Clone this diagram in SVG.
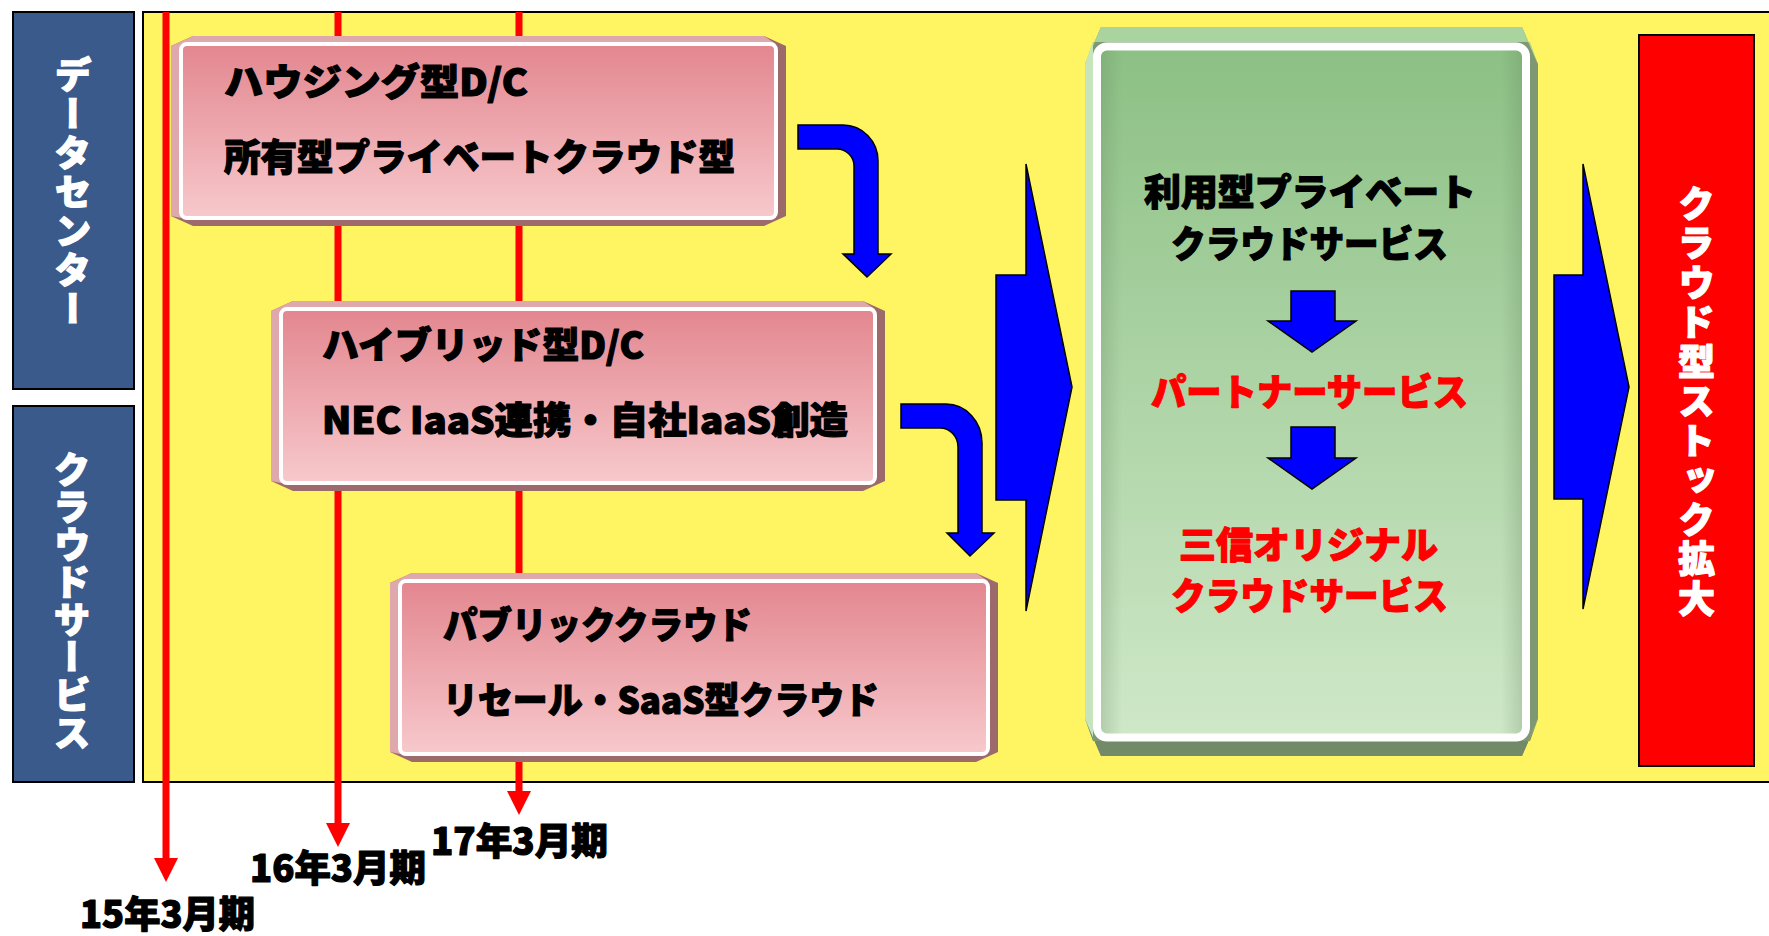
<svg xmlns="http://www.w3.org/2000/svg" width="1769" height="936" viewBox="0 0 1769 936">
<defs>
<style>
.t{font-family:"Noto Sans CJK JP","Noto Sans",sans-serif;font-weight:900;font-size:37px;stroke-width:1.2;stroke-linejoin:round;}
.blk{fill:#000000;stroke:#000000;}
.red{fill:#ff0000;stroke:#ff0000;}
.wht{fill:#ffffff;stroke:#ffffff;}
.vt{writing-mode:vertical-rl;text-orientation:upright;}
.pinkDark{fill:#9c6a6a;}
.pinkLight{fill:#dfa8ac;}
.pinkFace{fill:url(#gPink);stroke:#ffffff;stroke-width:4;}
.blueArrow{fill:#0000ff;stroke:#000000;stroke-width:1.5;stroke-linejoin:miter;}
.tl{stroke:#ff0000;stroke-width:7;fill:none;}
.side{fill:#3a5a8c;stroke:#000000;stroke-width:2;}
</style>
<linearGradient id="gPink" x1="0" y1="0" x2="0" y2="1">
<stop offset="0" stop-color="#e3868f"/>
<stop offset="1" stop-color="#f7c9cc"/>
</linearGradient>
<linearGradient id="gGreen" x1="0" y1="0" x2="0" y2="1">
<stop offset="0" stop-color="#8cc084"/>
<stop offset="1" stop-color="#cfe8c8"/>
</linearGradient>
<linearGradient id="gEdge" x1="0" y1="0" x2="1" y2="0">
<stop offset="0" stop-color="#5f7f58" stop-opacity="0.25"/>
<stop offset="0.05" stop-color="#5f7f58" stop-opacity="0"/>
<stop offset="0.95" stop-color="#5f7f58" stop-opacity="0"/>
<stop offset="1" stop-color="#5f7f58" stop-opacity="0.25"/>
</linearGradient>
<marker id="redHead" markerUnits="userSpaceOnUse" markerWidth="24" markerHeight="24" viewBox="0 0 24 24" refX="0" refY="12" orient="auto">
<path d="M0,0 L24,12 L0,24 Z" fill="#ff0000"/>
</marker>
</defs>

<rect width="1769" height="936" fill="#ffffff"/>

<g id="bg">
<rect x="143" y="12" width="1640" height="770" fill="#fff462" stroke="#000000" stroke-width="2"/>
</g>

<g id="side-datacenter">
<rect class="side" x="13" y="12" width="121" height="377"/>
<text class="t wht vt" x="73" y="56" font-size="38" textLength="271" lengthAdjust="spacing">データセンター</text>
</g>
<g id="side-cloud">
<rect class="side" x="13" y="406" width="121" height="376"/>
<text class="t wht vt" x="72" y="451" font-size="38" textLength="300" lengthAdjust="spacing">クラウドサービス</text>
</g>

<g id="connectors">
<line class="tl" x1="166" y1="12" x2="166" y2="858" marker-end="url(#redHead)"/>
<line class="tl" x1="338" y1="12" x2="338" y2="823" marker-end="url(#redHead)"/>
<line class="tl" x1="519" y1="12" x2="519" y2="791" marker-end="url(#redHead)"/>
<path class="blueArrow" d="M798,125 H843 A35,36 0 0 1 878,161 V254 H891 L867,277 L843,254 H854 V166 A17,17 0 0 0 837,149 H798 Z"/>
<path class="blueArrow" d="M901,404 H946 A36,39 0 0 1 982,443 V533 H994 L970,556 L947,533 H958 V447 A18,19 0 0 0 940,428 H901 Z"/>
<polygon class="blueArrow" points="996,275 1026,275 1026,164 1072,387 1026,611 1026,500 996,500"/>
<polygon class="blueArrow" points="1554,275 1583,275 1583,164 1629,387 1583,609 1583,499 1554,499"/>
</g>

<g id="box-housing">
<polygon class="pinkDark" points="193,36 764,36 786,46 786,216 764,226 193,226 171,216 171,46"/>
<polygon class="pinkLight" points="171,216 171,46 193,36 764,36 776,44 181,44 181,218"/>
<rect class="pinkFace" x="181" y="44" width="595" height="174" rx="6"/>
<text class="t blk" x="224" y="96" textLength="304" lengthAdjust="spacingAndGlyphs">ハウジング型D/C</text>
<text class="t blk" x="224" y="171" textLength="511" lengthAdjust="spacingAndGlyphs">所有型プライベートクラウド型</text>
</g>

<g id="box-hybrid">
<polygon class="pinkDark" points="293,301 863,301 885,311 885,481 863,491 293,491 271,481 271,311"/>
<polygon class="pinkLight" points="271,481 271,311 293,301 863,301 875,309 281,309 281,483"/>
<rect class="pinkFace" x="281" y="309" width="594" height="174" rx="6"/>
<text class="t blk" x="322" y="359" textLength="322" lengthAdjust="spacingAndGlyphs">ハイブリッド型D/C</text>
<text class="t blk" x="322" y="434" textLength="526" lengthAdjust="spacingAndGlyphs">NEC IaaS連携・自社IaaS創造</text>
</g>

<g id="box-public">
<polygon class="pinkDark" points="412,573 976,573 998,583 998,752 976,762 412,762 390,752 390,583"/>
<polygon class="pinkLight" points="390,752 390,583 412,573 976,573 988,581 400,581 400,754"/>
<rect class="pinkFace" x="400" y="581" width="588" height="173" rx="6"/>
<text class="t blk" x="443" y="639" textLength="309" lengthAdjust="spacingAndGlyphs">パブリッククラウド</text>
<text class="t blk" x="443" y="714" textLength="436" lengthAdjust="spacingAndGlyphs">リセール・SaaS型クラウド</text>
</g>

<g id="box-services">
<polygon fill="#7e9873" points="1101,27 1522,27 1538,64 1538,719 1522,756 1101,756 1085,719 1085,64"/>
<polygon fill="#a9d4a0" points="1085,64 1101,27 1522,27 1538,64 1530,42 1093,42"/>
<polygon fill="#c6e5bd" points="1085,64 1093,42 1093,741 1085,719"/>
<polygon fill="#738a69" points="1085,719 1093,741 1530,741 1538,719 1522,756 1101,756"/>
<rect x="1097" y="46.5" width="429" height="691" rx="10" fill="url(#gGreen)" stroke="#ffffff" stroke-width="8"/>
<rect x="1101" y="50.5" width="421" height="683" rx="6" fill="url(#gEdge)"/>
<text class="t blk" x="1144" y="206" font-size="38" textLength="332" lengthAdjust="spacingAndGlyphs">利用型プライベート</text>
<text class="t blk" x="1171" y="258" font-size="38" textLength="277" lengthAdjust="spacingAndGlyphs">クラウドサービス</text>
<polygon class="blueArrow" points="1291,291 1335,291 1335,321 1356,321 1312,352 1268,321 1291,321"/>
<text class="t red" x="1151" y="406" font-size="38" textLength="317" lengthAdjust="spacingAndGlyphs">パートナーサービス</text>
<polygon class="blueArrow" points="1291,427 1335,427 1335,458 1356,458 1312,489 1268,458 1291,458"/>
<text class="t red" x="1179" y="559" font-size="38" textLength="259" lengthAdjust="spacingAndGlyphs">三信オリジナル</text>
<text class="t red" x="1171" y="610" font-size="38" textLength="277" lengthAdjust="spacingAndGlyphs">クラウドサービス</text>
</g>

<g id="box-stock">
<rect x="1639" y="35" width="115" height="731" fill="#ff0000" stroke="#000000" stroke-width="2"/>
<text class="t wht vt" x="1696.5" y="185" font-size="40" textLength="432" lengthAdjust="spacing">クラウド型ストック拡大</text>
</g>

<g id="labels">
<text class="t blk" x="80" y="928" font-size="35" textLength="175" lengthAdjust="spacingAndGlyphs">15年3月期</text>
<text class="t blk" x="250" y="882" font-size="36" textLength="176" lengthAdjust="spacingAndGlyphs">16年3月期</text>
<text class="t blk" x="431" y="855" font-size="36" textLength="177" lengthAdjust="spacingAndGlyphs">17年3月期</text>
</g>
</svg>
